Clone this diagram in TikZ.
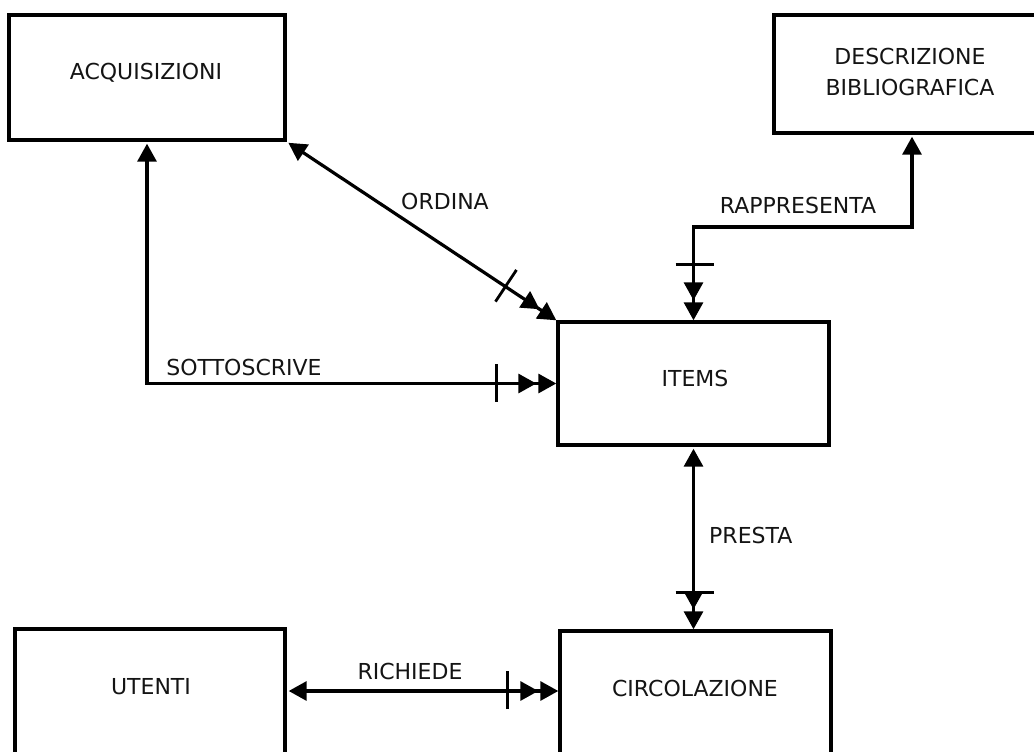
\documentclass[tikz,border=0pt]{standalone}
\usepackage{fontspec}
\setmainfont{DejaVu Sans}
\usetikzlibrary{arrows.meta,decorations.markings,calc}
\begin{document}
\begin{tikzpicture}[x=1pt,y=-1pt,
  box/.style={draw,line width=3.4pt,rectangle,inner sep=0pt},
  txtbase/.style={font=\fontsize{22}{31}\selectfont,align=center,inner sep=0pt,text=black!92},
  txt/.style={txtbase,text height=16pt,text depth=0pt},
  link/.style={line width=3.2pt,shorten <=2pt},
  ends/.style={{Triangle[length=18pt,width=19pt]}-{Triangle[length=18pt,width=19pt,sep=2pt]Triangle[length=18pt,width=19pt]}},
  barat/.style={postaction={decorate,decoration={markings,
      mark=at position -#1 with {\draw[-,line width=2.8pt] (0pt,-20pt) -- (0pt,20pt);}}}}
]
% canvas
\useasboundingbox (0,0) rectangle (1034,752);
\fill[white] (0,0) rectangle (1034,752);
\clip (0,0) rectangle (1034,752);

% entities
\node[box,minimum width=276pt,minimum height=125pt] (acq)   at (147,77.5)  {};
\node[box,minimum width=276pt,minimum height=118pt] (desc)  at (912,74)    {};
\node[box,minimum width=271pt,minimum height=123pt] (items) at (693.5,383.5) {};
\node[box,minimum width=271pt,minimum height=139pt] (circ)  at (695.5,700.5) {};
\node[box,minimum width=270pt,minimum height=141pt] (ute)   at (150,699.5) {};

\node[txt]     (acqt)   at (146,72)   {ACQUISIZIONI};
\node[txtbase] (desct)  at (910,71.5) {DESCRIZIONE\\BIBLIOGRAFICA};
\node[txt]     (itemst) at (695,378)  {ITEMS};
\node[txt]     (circt)  at (695,688)  {CIRCOLAZIONE};
\node[txt]     (utet)   at (151,686)  {UTENTI};

% bend points
\coordinate (rep) at (800,227);
\coordinate (rq)  at (420,691);

% relationships
\draw[link,ends,barat=61pt] (acq.south east) -- (items.north west);
\draw[link,ends,barat=60pt] (acq.south) |- (items.west);
\draw[link,ends,barat=56pt] (desc.south) |- (rep) -| (items.north);
\draw[link,ends,barat=37pt] (items.south) -- (items.south |- circ.north);
\draw[link,ends,barat=51pt] (ute.east |- rq) -- (circ.west |- rq);

% relationship names
\node[txt] (lord) at (445,201) {ORDINA};
\node[txt] (lsot) at (244,367) {SOTTOSCRIVE};
\node[txt] (lrap) at (798,205) {RAPPRESENTA};
\node[txt,anchor=west] (lpre) at (709,535) {PRESTA};
\node[txt] (lric) at (410,671) {RICHIEDE};
\end{tikzpicture}
\end{document}
